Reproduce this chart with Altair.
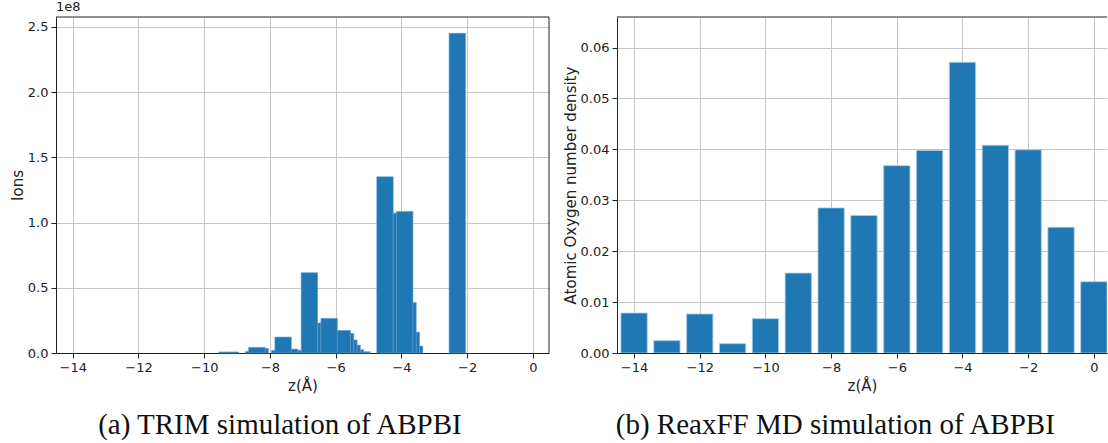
import altair as alt
import pandas as pd

# TRIM depth histogram: bin edges (Å) and ion counts per bin group
trim_start = [-9.55, -8.75, -8.65, -8.15, -7.95, -7.85, -7.35, -7.15, -7.05, -6.55,
              -6.45, -5.95, -5.55, -5.45, -5.35, -5.25, -5.15, -4.75, -4.25, -4.15,
              -3.65, -3.55, -3.45, -2.55]
trim_end = [-8.95, -8.65, -8.15, -8.05, -7.85, -7.35, -7.15, -7.05, -6.55, -6.45,
            -5.95, -5.55, -5.45, -5.35, -5.25, -5.15, -4.95, -4.25, -4.15, -3.65,
            -3.55, -3.45, -3.35, -2.05]
trim_ions = [0.008e8, 0.012e8, 0.043e8, 0.035e8, 0.02e8, 0.122e8, 0.03e8, 0.02e8, 0.615e8, 0.23e8,
             0.265e8, 0.173e8, 0.15e8, 0.10e8, 0.06e8, 0.025e8, 0.01e8, 1.35e8, 1.072e8, 1.085e8,
             0.386e8, 0.16e8, 0.053e8, 2.45e8]

# ReaxFF MD: atomic oxygen number density per 1 Å slab
md_z = [-14, -13, -12, -11, -10, -9, -8, -7, -6, -5, -4, -3, -2, -1, 0]
md_density = [0.00785, 0.00242, 0.00766, 0.00183, 0.00674, 0.0157, 0.0285, 0.0270,
              0.0368, 0.0398, 0.0571, 0.0408, 0.0399, 0.0247, 0.0140]

BAR_WIDTH = 0.8
BLUE = "#1f77b4"
W_LEFT, W_RIGHT, H = 493, 490, 336

trim = pd.DataFrame({"z0": trim_start, "z1": trim_end, "ions": trim_ions})
md = pd.DataFrame({"z": md_z, "density": md_density})
md["z0"] = md["z"] - BAR_WIDTH / 2
md["z1"] = md["z"] + BAR_WIDTH / 2

minus = "replace(datum.label, '-', '\u2212')"
axis_common = dict(
    labelFont="DejaVu Sans", labelFontSize=13, labelColor="#222",
    titleFont="DejaVu Sans", titleFontSize=15, titleFontWeight="normal", titleColor="#222",
    domainColor="#222", domainWidth=1, tickColor="#222", tickSize=5, tickWidth=1,
    labelPadding=3, gridColor="#c6c6c6", gridWidth=1,
)

caption_common = dict(orient="bottom", anchor="middle", frame="bounds",
                      font="Liberation Serif", fontSize=29, fontWeight="normal",
                      color="#111", offset=18)


def spines(width, right=True):
    top = alt.Chart(pd.DataFrame({"k": [0]})).mark_rule(color="#222", strokeWidth=1).encode(
        x=alt.value(0), x2=alt.value(width), y=alt.value(0))
    layers = [top]
    if right:
        layers.append(alt.Chart(pd.DataFrame({"k": [0]})).mark_rule(color="#222", strokeWidth=1).encode(
            x=alt.value(width), y=alt.value(0), y2=alt.value(H)))
    return layers


left_bars = alt.Chart(trim).mark_bar(color=BLUE, stroke="#5d9bcd", strokeWidth=0.6).encode(
    x=alt.X("z0:Q", title="z(Å)",
            scale=alt.Scale(domain=[-14.51, 0.49], nice=False, zero=False),
            axis=alt.Axis(values=list(range(-14, 1, 2)), labelExpr=minus, **axis_common)),
    x2="z1:Q",
    y=alt.Y("ions:Q", title="Ions",
            scale=alt.Scale(domain=[0, 2.575e8], nice=False),
            axis=alt.Axis(values=[0, 0.5e8, 1e8, 1.5e8, 2e8, 2.5e8],
                          labelExpr="format(datum.value / 1e8, '.1f')", titlePadding=2,
                          **axis_common)),
    y2=alt.datum(0),
)

offset_text = alt.Chart(pd.DataFrame({"t": ["1e8"]})).mark_text(
    font="DejaVu Sans", fontSize=13, color="#222", align="left", baseline="bottom"
).encode(x=alt.value(0), y=alt.value(-3), text="t:N")

left = alt.layer(left_bars, offset_text, *spines(W_LEFT)).properties(
    width=W_LEFT, height=H,
    title=alt.TitleParams("(a) TRIM simulation of ABPBI", **caption_common),
)

right_bars = alt.Chart(md).mark_bar(color=BLUE, stroke="#a9cbe6", strokeWidth=0.8, clip=True).encode(
    x=alt.X("z0:Q", title="z(Å)",
            scale=alt.Scale(domain=[-14.52, 0.40], nice=False, zero=False),
            axis=alt.Axis(values=list(range(-14, 1, 2)), labelExpr=minus, **axis_common)),
    x2="z1:Q",
    y=alt.Y("density:Q", title="Atomic Oxygen number density",
            scale=alt.Scale(domain=[0, 0.066], nice=False),
            axis=alt.Axis(values=[0, 0.01, 0.02, 0.03, 0.04, 0.05, 0.06], format=".2f",
                          titlePadding=2, **axis_common)),
    y2=alt.datum(0),
)

right = alt.layer(right_bars, *spines(W_RIGHT, right=False)).properties(
    width=W_RIGHT, height=H,
    title=alt.TitleParams("(b) ReaxFF MD simulation of ABPBI", **caption_common),
)

chart = alt.hconcat(left, right, spacing=13).properties(
    padding={"left": 10, "top": 1, "right": 0, "bottom": 0},
    background="white",
).configure_view(stroke=None)

chart.save("out.html", embed_options={"renderer": "svg", "actions": False})
